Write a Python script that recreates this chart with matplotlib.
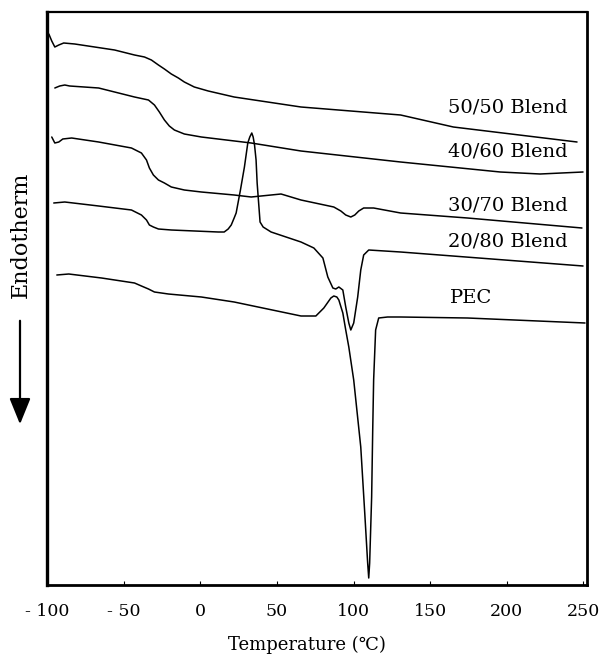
import matplotlib
matplotlib.use("Agg")
import matplotlib.pyplot as plt

# ---- data (temperature in degC, heat flow in arbitrary units; endotherm down) ----
t_5050 = [-98.8, -96.9, -94.9, -92.3, -89.1, -81.9, -55.9, -42.9, -36.4, -31.9, -27.3,
          -23.4, -18.9, -14.3, -10.4, -3.9, 5.2, 22.1, 65.7, 130.7, 165.1, 245.8]
h_5050 = [566, 559, 553, 555, 557, 556, 550, 545, 543, 540, 535,
          531, 526, 522, 518, 513, 509, 503, 493, 485, 473, 458]

t_4060 = [-94.9, -91.7, -88.4, -85.2, -66.3, -42.9, -33.8, -29.9, -26.7, -23.4, -20.2,
          -16.9, -10.4, 0.7, 33.2, 65.7, 130.7, 195.7, 221.7, 249.7]
h_4060 = [512, 514, 515, 514, 512, 503, 500, 495, 488, 480, 474,
          470, 466, 463, 457, 449, 438, 428, 426, 428]

t_3070 = [-96.9, -94.9, -92.3, -89.7, -83.9, -66.3, -44.9, -38.4, -35.1, -33.2, -30.6,
          -27.3, -23.4, -18.9, -10.4, 0.7, 22.1, 33.2, 52.7, 65.7, 87.1, 91.7, 94.9,
          98.2, 100.8, 103.4, 106.6, 113.1, 130.7, 174.3, 249.0]
h_3070 = [463, 457, 458, 461, 462, 458, 452, 447, 440, 432, 425,
          420, 417, 413, 410, 408, 405, 403, 406, 400, 393, 389, 385,
          383, 385, 389, 392, 392, 387, 382, 372]

t_2080 = [-95.6, -88.4, -66.3, -44.9, -38.4, -35.1, -33.2, -30.6, -27.3, -18.9, 11.7,
          15.6, 18.2, 20.2, 22.1, 23.4, 26.2, 28.8, 31.0, 32.3, 33.6, 34.5, 35.4,
          36.4, 37.1, 39.0, 41.0, 46.2, 65.7, 74.1, 80.0, 83.2, 86.5, 88.4, 90.4,
          93.0, 94.9, 96.9, 98.2, 100.1, 102.7, 104.7, 106.6, 109.9, 130.7, 249.7]
h_2080 = [397, 398, 394, 390, 385, 380, 375, 373, 371, 370, 368,
          368, 371, 375, 382, 387, 410, 433, 457, 463, 467, 463, 455,
          440, 417, 378, 373, 368, 358, 352, 342, 323, 312, 311, 313,
          310, 293, 277, 270, 277, 303, 330, 345, 350, 348, 334]

t_pec = [-93.6, -85.8, -64.4, -42.9, -38.4, -33.8, -29.9, -20.8, 0.7, 22.1, 65.7,
         75.4, 80.6, 85.2, 87.1, 89.1, 90.4, 93.0, 94.9, 96.9, 100.1, 104.7, 107.3,
         109.2, 109.9, 110.5, 111.8, 112.5, 113.1, 114.4, 116.4, 122.2, 130.7,
         174.3, 251.0]
h_pec = [325, 326, 322, 317, 314, 311, 308, 306, 303, 298, 284,
         284, 292, 302, 304, 303, 300, 287, 270, 253, 220, 153, 87,
         37, 22, 37, 103, 170, 220, 270, 282, 283, 283,
         282, 277]

labels = ["50/50 Blend", "40/60 Blend", "30/70 Blend", "20/80 Blend", "PEC"]
label_t = [200.9, 200.9, 200.9, 200.9, 176.9]
label_h = [493, 448, 394, 359, 302]

x_ticks = [-100, -50, 0, 50, 100, 150, 200, 250]
x_tick_labels = ["- 100", "- 50", "0", "50", "100", "150", "200", "250"]

# ---- figure ----
serif = ["DejaVu Serif", "DejaVu Sans"]
fig = plt.figure(figsize=(6.0, 6.59), dpi=100)
ax = fig.add_axes([47 / 600, 74 / 659, 540 / 600, 573 / 659])

series = [(t_5050, h_5050), (t_4060, h_4060), (t_3070, h_3070),
          (t_2080, h_2080), (t_pec, h_pec)]
for t, h in series:
    ax.plot(t, h, color="black", lw=1.1, solid_joinstyle="round", solid_capstyle="round")

for lab, lt, lh in zip(labels, label_t, label_h):
    ax.text(lt, lh, lab, ha="center", va="center", fontsize=14, family=serif)

ax.set_xlim(-98.8, 252.3)
ax.set_ylim(15, 588)
ax.set_yticks([])
ax.set_xticks(x_ticks)
ax.set_xticklabels(x_tick_labels, fontsize=12.5, family=serif)
ax.tick_params(axis="x", direction="in", length=3, width=0.8, pad=13)

for side, lw in (("left", 2.4), ("bottom", 2.0), ("right", 2.0), ("top", 1.6)):
    ax.spines[side].set_linewidth(lw)

ax.set_xlabel("Temperature (℃)", fontsize=13, family=serif)
ax.xaxis.label.set_va("center")
ax.xaxis.set_label_coords(0.481, -0.105)

fig.text(21 / 600, (659 - 235) / 659, "Endotherm", rotation=90, ha="center",
         va="center", fontsize=16, family=serif)
ax.annotate("", xy=(20, 659 - 427), xycoords="figure pixels",
            xytext=(20, 659 - 318), textcoords="figure pixels",
            arrowprops=dict(arrowstyle="-|>,head_length=1.6,head_width=0.65",
                            lw=1.6, color="black", mutation_scale=10))

fig.savefig("out.png", dpi=100)
